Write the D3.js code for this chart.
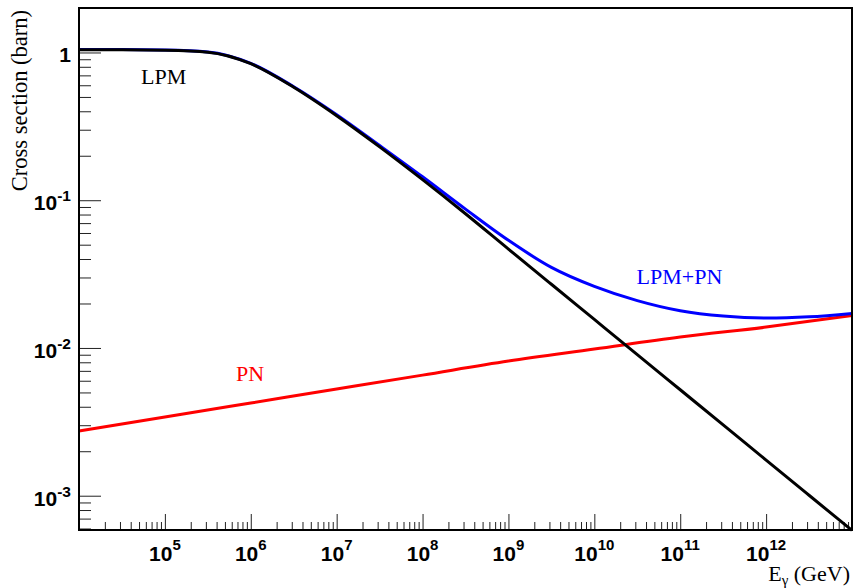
<!DOCTYPE html>
<html><head><meta charset="utf-8">
<script src="https://cdn.jsdelivr.net/npm/d3@7"></script>
<style>html,body{margin:0;padding:0;background:#fff;} svg{display:block}</style>
</head><body>
<svg id="chart" width="855" height="588"></svg>
<script>
// ---- data ----
const energyHalfDecade = [1e4, 3.162e4, 1e5, 3.162e5, 1e6, 3.162e6, 1e7, 3.162e7, 1e8, 3.162e8,
  1e9, 3.162e9, 1e10, 3.162e10, 1e11, 3.162e11, 1e12, 3.162e12, 1e13];
const lpm = [1.044, 1.044, 1.036, 1.005, 0.840, 0.582, 0.3736, 0.2298, 0.1378, 0.0810,
  0.0467, 0.02698, 0.01560, 0.00902, 0.005213, 0.003013, 0.001742, 0.001007, 0.000582];
const lpmPlusPn = [1.046, 1.046, 1.039, 1.008, 0.844, 0.586, 0.379, 0.2345, 0.1440, 0.0870,
  0.0535, 0.0351, 0.0261, 0.0209, 0.01785, 0.01643, 0.01594, 0.01626, 0.01714];
const energyDecade = [1e4, 1e5, 1e6, 1e7, 1e8, 1e9, 1e10, 1e11, 1e12, 1e13];
const pn = [0.00274, 0.00341, 0.00424, 0.00527, 0.00655, 0.00815, 0.00983, 0.01186, 0.01384, 0.01656];
const xTickExponents = [5, 6, 7, 8, 9, 10, 11, 12];
const yTickExponents = [0, -1, -2, -3];
const curveLabels = ["LPM", "LPM+PN", "PN"];

// ---- layout ----
const svg = d3.select("#chart");
const L = 79, R = 852, T = 8, B = 530;
const x = d3.scaleLog().domain([1e4, 1e13]).range([L, R]);
const y = d3.scaleLog().domain([5.86e-4, 2]).range([B, T]);

svg.append("rect").attr("width", 855).attr("height", 588).attr("fill", "#fff");

// minor / major tick values
const xMinor = [], yMinor = [];
for (let d = 4; d <= 12; d++) for (let k = 2; k <= 9; k++) xMinor.push(k * 10 ** d);
for (let d = -4; d <= 0; d++) for (let k = 2; k <= 9; k++) {
  const v = k * 10 ** d; if (v > 5.9e-4 && v < 1.95) yMinor.push(v);
}
const xMajor = xTickExponents.map(e => 10 ** e);
const yMajor = yTickExponents.map(e => 10 ** e);

function tickAxis(g) { g.select(".domain").remove(); g.selectAll("line").attr("stroke", "#222").attr("stroke-width", 1); }

svg.append("g").attr("transform", `translate(0,${B})`)
  .call(d3.axisBottom(x).tickValues(xMinor).tickSize(-8).tickFormat("")).call(tickAxis);
svg.append("g").attr("transform", `translate(0,${B})`)
  .call(d3.axisBottom(x).tickValues(xMajor).tickSize(-16).tickFormat("")).call(tickAxis);
svg.append("g").attr("transform", `translate(${L},0)`)
  .call(d3.axisLeft(y).tickValues(yMinor).tickSize(-12).tickFormat("")).call(tickAxis);
svg.append("g").attr("transform", `translate(${L},0)`)
  .call(d3.axisLeft(y).tickValues(yMajor).tickSize(-22).tickFormat("")).call(tickAxis);

// tick labels
const tickFont = "'Liberation Sans', Arial, Helvetica, sans-serif";
xTickExponents.forEach(e => {
  const t = svg.append("text").attr("x", x(10 ** e)).attr("y", 560.7)
    .attr("text-anchor", "middle").attr("font-family", tickFont).attr("font-weight", "bold")
    .attr("font-size", 21).attr("fill", "#000");
  t.append("tspan").text("10");
  t.append("tspan").attr("dy", -11).attr("font-size", 15).text(e);
});
yTickExponents.forEach(e => {
  const t = svg.append("text").attr("x", 71).attr("y", y(10 ** e) + 10)
    .attr("text-anchor", "end").attr("font-family", tickFont).attr("font-weight", "bold")
    .attr("font-size", 21).attr("fill", "#000");
  if (e === 0) t.text("1");
  else {
    t.append("tspan").text("10");
    t.append("tspan").attr("dy", -9).attr("font-size", 15.5).text(e);
  }
});

// curves
const serif = "'Liberation Serif', 'Times New Roman', Times, serif";
const line = d3.line().x(d => x(d[0])).y(d => y(d[1])).curve(d3.curveMonotoneX);
svg.append("path").datum(d3.zip(energyDecade, pn)).attr("d", line)
  .attr("fill", "none").attr("stroke", "#ff0000").attr("stroke-width", 3);
svg.append("path").datum(d3.zip(energyHalfDecade, lpmPlusPn)).attr("d", line)
  .attr("fill", "none").attr("stroke", "#0000ff").attr("stroke-width", 3);
svg.append("path").datum(d3.zip(energyHalfDecade, lpm)).attr("d", line)
  .attr("fill", "none").attr("stroke", "#000").attr("stroke-width", 3);

// frame
svg.append("rect").attr("x", L).attr("y", T).attr("width", R - L).attr("height", B - T)
  .attr("fill", "none").attr("stroke", "#000").attr("stroke-width", 2);

// curve labels
svg.append("text").attr("x", 141).attr("y", 84).attr("font-family", serif).attr("font-size", 22)
  .attr("fill", "#000").text(curveLabels[0]);
svg.append("text").attr("x", 636.5).attr("y", 284.3).attr("font-family", serif).attr("font-size", 22)
  .attr("fill", "#0000ff").text(curveLabels[1]);
svg.append("text").attr("x", 236).attr("y", 381).attr("font-family", serif).attr("font-size", 22)
  .attr("fill", "#ff0000").text(curveLabels[2]);

// axis titles
svg.append("text").attr("transform", "translate(27,10) rotate(-90)").attr("text-anchor", "end")
  .attr("font-family", serif).attr("font-size", 22.5).attr("fill", "#000").text("Cross section (barn)");
const xt = svg.append("text").attr("x", 850).attr("y", 580.7).attr("text-anchor", "end")
  .attr("font-family", serif).attr("font-size", 22).attr("fill", "#000");
xt.append("tspan").text("E");
xt.append("tspan").attr("dy", 4).attr("font-size", 15).text("γ");
xt.append("tspan").attr("dy", -4).text(" (GeV)");
</script>
</body></html>
